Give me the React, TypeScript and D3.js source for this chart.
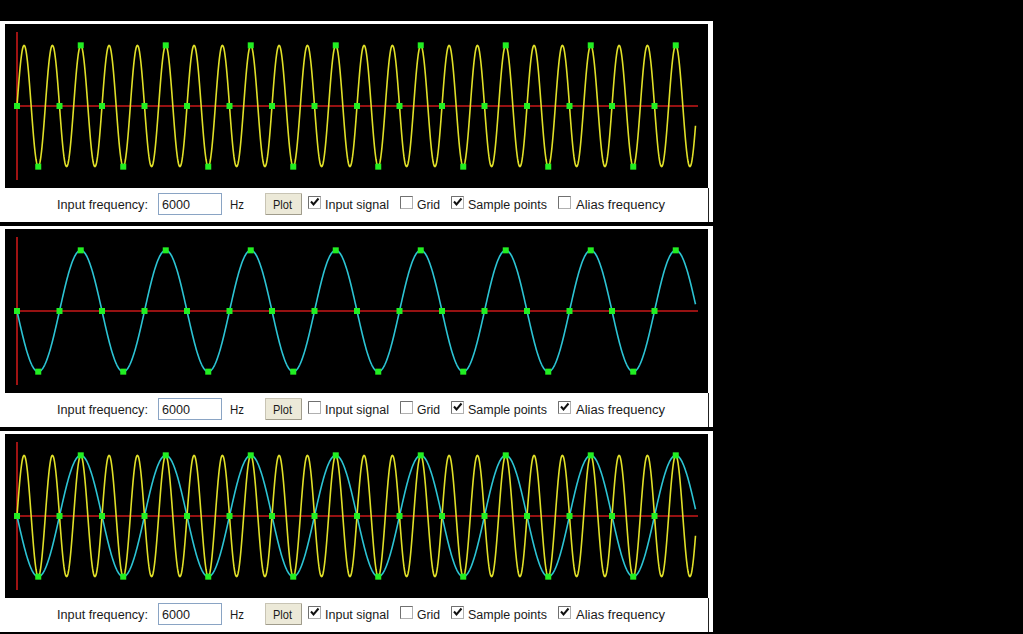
import React from 'react';
import * as d3 from 'd3';

// ---- data ----
const inputFrequencyHz = 6000;
const samplingRateHz = 8000;
const aliasFrequencyHz = 2000;
const durationMs = 4;
// sampled values of the 6000 Hz signal at 8000 Hz (n = 0..31)
const sampleValues = [
  0, -1, 0, 1, 0, -1, 0, 1, 0, -1, 0, 1, 0, -1, 0, 1,
  0, -1, 0, 1, 0, -1, 0, 1, 0, -1, 0, 1, 0, -1, 0, 1,
];
const controlLabels = ['Input signal', 'Grid', 'Sample points', 'Alias frequency'];
const panelChecks = [
  [true, false, true, false],
  [false, false, true, true],
  [true, false, true, true],
];
const frequencyText = '6000';

const W = 1023;
const H = 634;
const PANEL_STEP = 205;

const x = d3.scaleLinear().domain([0, durationMs]).range([17, 697]);
const y = d3.scaleLinear().domain([-1.22, 1.22]).range([180, 32]);

const curveTimes = d3.range(0, durationMs * 0.9985, durationMs / 1360);

const inputCurve = curveTimes.map((t) => [t, Math.sin(2 * Math.PI * inputFrequencyHz * t / 1000)] as [number, number]);
const aliasCurve = curveTimes.map((t) => [t, -Math.sin(2 * Math.PI * aliasFrequencyHz * t / 1000)] as [number, number]);
const samples = sampleValues.map((v, i) => [(i / samplingRateHz) * 1000, v] as [number, number]);

const line = d3.line<[number, number]>().x((d) => x(d[0])).y((d) => y(d[1]));

const FONT = '"Liberation Sans", Arial, sans-serif';
const checkX = [308, 400, 451, 558];
const labelX = [325, 417, 468, 576];
const labelW = [64, 23, 79, 89];

function Checkbox({ cx, cy, checked }: { cx: number; cy: number; checked: boolean }) {
  return (
    <g>
      <rect x={cx + 0.5} y={cy + 0.5} width={12} height={12} fill="#fff" stroke="#b0b0b0" />
      <path d={`M${cx + 0.5},${cy + 12.5} V${cy + 0.5} H${cx + 12.5}`} fill="none" stroke="#707070" />
      {checked && (
        <path
          d={`M${cx + 3},${cy + 5.5} L${cx + 5.5},${cy + 8.5} L${cx + 10.5},${cy + 2.5}`}
          fill="none"
          stroke="#111"
          strokeWidth={2}
        />
      )}
    </g>
  );
}

function Label({ x0, w, text, anchor }: { x0: number; w: number; text: string; anchor?: string }) {
  return (
    <text
      x={x0}
      y={208.5}
      fontFamily={FONT}
      fontSize={12.5}
      fill="#1a1a1a"
      textLength={w}
      lengthAdjust="spacingAndGlyphs"
      textAnchor={anchor}
    >
      {text}
    </text>
  );
}

function Panel({ index }: { index: number }) {
  const dy = index * PANEL_STEP;
  const checks = panelChecks[index];
  const [showInput, , showSamples, showAlias] = checks;
  return (
    <g transform={`translate(0,${dy})`}>
      <rect x={0} y={21} width={713} height={201} fill="#fff" />
      <rect x={5} y={24} width={703} height={164} fill="#000" />
      <line x1={708.5} x2={708.5} y1={188} y2={222} stroke="#222" />
      {/* axes */}
      <line x1={x(0)} x2={x(0)} y1={y.range()[1]} y2={y.range()[0]} stroke="#c81818" strokeWidth={1.6} />
      <line x1={x(0)} x2={698} y1={y(0)} y2={y(0)} stroke="#c81818" strokeWidth={1.6} />
      {showAlias && <path d={line(aliasCurve) || ''} fill="none" stroke="#2cc4d4" strokeWidth={1.6} />}
      {showInput && <path d={line(inputCurve) || ''} fill="none" stroke="#e0e028" strokeWidth={1.6} />}
      {showSamples &&
        samples.map((d, i) => (
          <rect key={i} x={x(d[0]) - 3} y={y(d[1]) - 3} width={6} height={6} fill="#22ee22" />
        ))}
      {/* controls */}
      <Label x0={57} w={91} text="Input frequency:" />
      <rect x={158.5} y={193.5} width={63} height={21} fill="#fff" stroke="#8aa4c4" />
      <Label x0={162} w={28} text={frequencyText} />
      <Label x0={230} w={14} text="Hz" />
      <rect x={265.5} y={193.5} width={36} height={21} fill="#ece9d8" stroke="#c8c4b4" />
      <path d="M266,214.5 H301.5 V194" fill="none" stroke="#a09c8c" />
      <Label x0={273} w={19} text="Plot" />
      {controlLabels.map((label, i) => (
        <g key={label}>
          <Checkbox cx={checkX[i]} cy={196} checked={checks[i]} />
          <Label x0={labelX[i]} w={labelW[i]} text={label} />
        </g>
      ))}
    </g>
  );
}

export default function App() {
  return (
    <svg
      width={W}
      height={H}
      style={{ position: 'absolute', left: 0, top: 0, display: 'block' }}
    >
      <rect x={0} y={0} width={W} height={H} fill="#000" />
      {[0, 1, 2].map((i) => (
        <Panel key={i} index={i} />
      ))}
    </svg>
  );
}
